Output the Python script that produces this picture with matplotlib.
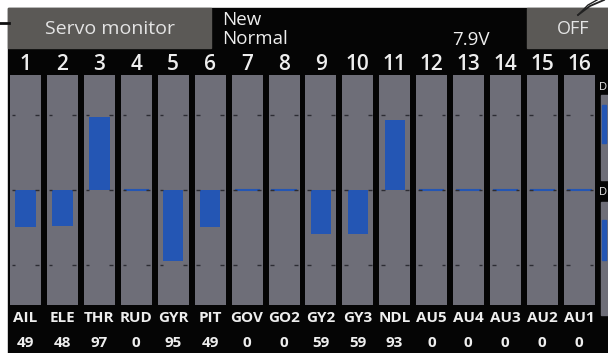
#!/usr/bin/env python3

"""Servo monitor screen, redrawn with matplotlib."""

import matplotlib
matplotlib.use('Agg')
import matplotlib.pyplot as plt
from matplotlib.patches import Rectangle

# Channel data (signed %, bar below centre = negative).
channels = [str(i) for i in range(1, 17)]
functions = ['AIL', 'ELE', 'THR', 'RUD', 'GYR', 'PIT', 'GOV', 'GO2',
             'GY2', 'GY3', 'NDL', 'AU5', 'AU4', 'AU3', 'AU2', 'AU1']
values = [-49, -48, 97, 0, -95, -49, 0, 0, -59, -59, 93, 0, 0, 0, 0, 0]

title = 'Servo monitor'
model_name = 'New'
condition = 'Normal'
voltage = '7.9V'
state = 'OFF'

W, H = 608, 353
BG = '#050505'
PANEL = '#5b5956'
COLUMN = '#6e6e78'
BLUE = '#2456b4'
TEXT = '#eeeeee'
FONT = 'Open Sans'


def fx(px):
	return px / W


def fy(py):
	# pixel row from top -> figure fraction
	return 1 - py / H


fig = plt.figure(figsize=(W / 100, H / 100), dpi=100)
fig.patch.set_facecolor('white')

# Black screen area and header boxes.
fig.patches.append(Rectangle((fx(8), 0), 1 - fx(8), fy(8), transform=fig.transFigure,
                             color=BG, zorder=0))
fig.patches.append(Rectangle((fx(8), fy(48)), fx(203), fy(8) - fy(48),
                             transform=fig.transFigure, color=PANEL, zorder=1))
fig.patches.append(Rectangle((fx(527), fy(48)), fx(81), fy(8) - fy(48),
                             transform=fig.transFigure, color=PANEL, zorder=1))

# Leader lines from the manual page.
fig.add_artist(plt.Line2D([fx(0), fx(9)], [fy(23), fy(23)], color='#111111', lw=2))
fig.add_artist(plt.Line2D([fx(578), fx(590), fx(604)], [fy(15), fy(6), fy(0)],
                          color='#222222', lw=1.3))
fig.add_artist(plt.Line2D([fx(578), fx(588), fx(597)], [fy(15), fy(5), fy(0)],
                          color='#222222', lw=1.0))

fig.text(fx(110), fy(29), title, color='#e4e4e4', fontsize=14, family=FONT,
         ha='center', va='center')
fig.text(fx(222), fy(20), model_name, color=TEXT, fontsize=13.5, family=FONT,
         ha='left', va='center')
fig.text(fx(222), fy(39), condition, color=TEXT, fontsize=13.5, family=FONT,
         ha='left', va='center')
fig.text(fx(452), fy(40), voltage, color=TEXT, fontsize=13.5, family=FONT,
         ha='left', va='center')
fig.text(fx(573), fy(29), state, color='#e4e4e4', fontsize=13, family=FONT,
         ha='center', va='center')

# Bar area.
ax = fig.add_axes([fx(7), fy(305), fx(598) - fx(7), fy(75) - fy(305)])
ax.set_zorder(5)
ax.set_facecolor('none')
ax.set_xlim(0.5, 16.5)
ax.set_ylim(-153, 153)
ax.axis('off')

x = list(range(1, 17))
col_w = 0.84
ax.bar(x, 306, bottom=-153, width=col_w, color=COLUMN, zorder=1)

nonzero_x = [xi for xi, v in zip(x, values) if v != 0]
nonzero_v = [v for v in values if v != 0]
ax.bar(nonzero_x, nonzero_v, width=0.55, color=BLUE, zorder=2)
zero_x = [xi for xi, v in zip(x, values) if v == 0]
ax.hlines([0] * len(zero_x), [xi - 0.34 for xi in zero_x], [xi + 0.34 for xi in zero_x],
          color=BLUE, lw=1.5, zorder=2)

# small tick dashes at the column edges (+100, 0, -100)
for xi in x:
	for level in (100, 0, -100):
		ax.hlines(level, xi - col_w / 2 + 0.05, xi - col_w / 2 + 0.15, color='#2c2c33', lw=1, zorder=3)
		ax.hlines(level, xi + col_w / 2 - 0.15, xi + col_w / 2 - 0.05, color='#2c2c33', lw=1, zorder=3)

# channel numbers, functions, values
for xi, ch, fn, v in zip(x, channels, functions, values):
	px = 25.5 + (xi - 1) * 36.9
	fig.text(fx(px), fy(64), ch, color=TEXT, fontsize=15, family=FONT, weight='semibold',
	         ha='center', va='center')
	fig.text(fx(px), fy(318), fn, color=TEXT, fontsize=11, family=FONT, weight='bold',
	         ha='center', va='center')
	fig.text(fx(px), fy(343), str(abs(v)), color=TEXT, fontsize=11, family=FONT,
	         weight='bold', ha='center', va='center')

# digital channel indicators cut off at the right edge
for top, bottom, btop, bbot, ty in ((95, 180, 105, 143, 88), (202, 315, 220, 260, 192)):
	fig.patches.append(Rectangle((fx(601), fy(bottom)), fx(10), fy(top) - fy(bottom),
	                             transform=fig.transFigure, color=COLUMN, zorder=1))
	fig.patches.append(Rectangle((fx(602), fy(bbot)), fx(4), fy(btop) - fy(bbot),
	                             transform=fig.transFigure, color=BLUE, zorder=2))
	fig.text(fx(599), fy(ty), 'D', color=TEXT, fontsize=8, family=FONT, ha='left', va='center')

fig.savefig('out.png', dpi=100, facecolor=fig.get_facecolor())
